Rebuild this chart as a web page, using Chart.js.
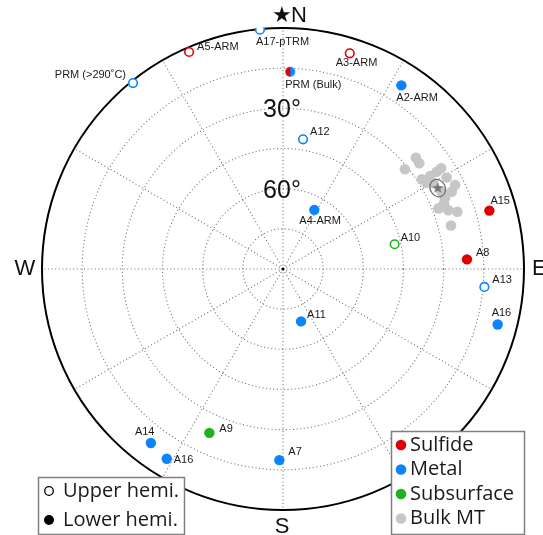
<!DOCTYPE html>
<html>
<head>
<meta charset="utf-8">
<script src="https://cdn.jsdelivr.net/npm/chart.js"></script>
<style>
  body { margin: 0; background: #fff; }
</style>
</head>
<body>
<canvas id="net" width="543" height="535"></canvas>
<script>
// directions: declination (deg), inclination (deg, negative = upper hemisphere)
const sulfideNames = ['A5-ARM', 'A3-ARM', 'A15', 'A8'];
const sulfideDec = [336.6, 17.2, 74.2, 87.0];
const sulfideInc = [-1.7, -5.7, 9.9, 21.2];

const metalNames = ['A17-pTRM', 'PRM (>290˚C)', 'A2-ARM', 'A12', 'A4-ARM', 'A13', 'A16', 'A11', 'A7', 'A14', 'A16'];
const metalDec = [354.5, 321.1, 32.8, 8.8, 27.9, 95.1, 104.5, 161.0, 181.1, 217.2, 211.5];
const metalInc = [-0.2, -0.8, 8.4, -41.0, 65.0, -14.5, 7.2, 69.3, 18.6, 8.4, 6.9];

const subsurfaceNames = ['A10', 'A9'];
const subsurfaceDec = [77.5, 204.2];
const subsurfaceInc = [-47.3, 22.9];

const bulkPrmNames = ['PRM (Bulk)'];
const bulkPrmDec = [2.1];
const bulkPrmInc = [16.3];

const bulkMtDec = [50.1, 52.2, 50.7, 57.5, 57.7, 57.1, 59.0, 60.8, 64.0, 65.4, 64.0, 66.4, 68.7, 70.4, 71.8, 75.5, 60.3, 57.7, 67.7];
const bulkMtInc = [25.3, 25.6, 31.2, 20.0, 22.1, 28.3, 27.4, 20.0, 18.5, 20.7, 24.1, 24.0, 27.7, 24.5, 21.5, 25.2, 25.4, 25.0, 25.0];
const bulkMeanDec = [62.4];
const bulkMeanInc = [24.8];

const ringInc = [75, 60, 45, 30, 15];
const ringLabelInc = [30, 60];
const spokeDec = [0, 30, 60, 90, 120, 150, 180, 210, 240, 270, 300, 330];

const legendGroups = ['Sulfide', 'Metal', 'Subsurface', 'Bulk MT'];
const legendHemi = ['Upper hemi.', 'Lower hemi.'];

// label placement, pixels from the marker: [dx, dy, align]
const sulfideLabelPos = [[8, -5, 'left'], [-14, 10, 'left'], [1, -10, 'left'], [9, -6, 'left']];
const metalLabelPos = [[-4, 12, 'left'], [-7, -8, 'right'], [-5, 13, 'left'], [7, -7, 'left'], [-15, 11, 'left'],
  [8, -7, 'left'], [-6, -12, 'left'], [6, -6, 'left'], [9, -8, 'left'], [-16, -11, 'left'], [7, 1, 'left']];
const subsurfaceLabelPos = [[6, -6, 'left'], [10, -4, 'left']];
const bulkPrmLabelPos = [[-5, 13, 'left']];

const RED = '#e00000', BLUE = '#0a84ff', GREEN = '#1db31d', GREY = '#c6c6c6';

// polar: distance from centre = 90 - |inc|
function toXY(dec, inc) {
  const r = 90 - Math.abs(inc);
  const a = dec * Math.PI / 180;
  return { x: r * Math.sin(a), y: r * Math.cos(a) };
}
const pts = (dec, inc) => dec.map((d, i) => toXY(d, inc[i]));
const fills = (inc, col) => inc.map(v => v < 0 ? '#fff' : col);
const widths = inc => inc.map(v => v < 0 ? 1.6 : 0);
const radii = inc => inc.map(v => v < 0 ? 4.3 : 5.2);

function halfDot(r) {
  const c = document.createElement('canvas');
  c.width = c.height = 2 * r + 2;
  const g = c.getContext('2d');
  g.fillStyle = RED;
  g.beginPath(); g.arc(r + 1, r + 1, r, Math.PI / 2, Math.PI * 1.5); g.fill();
  g.fillStyle = BLUE;
  g.beginPath(); g.arc(r + 1, r + 1, r, -Math.PI / 2, Math.PI / 2); g.fill();
  return c;
}
function starImg(r) {
  const c = document.createElement('canvas');
  c.width = c.height = 2 * r + 2;
  const g = c.getContext('2d');
  g.fillStyle = '#777';
  g.beginPath();
  for (let k = 0; k < 10; k++) {
    const rr = k % 2 ? r * 0.42 : r;
    const a = -Math.PI / 2 + k * Math.PI / 5;
    g.lineTo(r + 1 + rr * Math.cos(a), r + 1 + rr * Math.sin(a));
  }
  g.closePath(); g.fill();
  return c;
}

const gridPlugin = {
  id: 'grid',
  beforeDatasetsDraw(chart) {
    const ctx = chart.ctx, xs = chart.scales.x, ys = chart.scales.y;
    const cx = xs.getPixelForValue(0), cy = ys.getPixelForValue(0);
    const k = (xs.getPixelForValue(90) - cx) / 90;
    ctx.save();
    ctx.strokeStyle = '#707070';
    ctx.lineWidth = 1.1;
    ctx.setLineDash([1, 2.6]);
    ringInc.forEach(inc => {
      ctx.beginPath(); ctx.arc(cx, cy, (90 - inc) * k, 0, Math.PI * 2); ctx.stroke();
    });
    spokeDec.forEach(d => {
      const a = d * Math.PI / 180;
      ctx.beginPath(); ctx.moveTo(cx, cy);
      ctx.lineTo(cx + 90 * k * Math.sin(a), cy - 90 * k * Math.cos(a)); ctx.stroke();
    });
    ctx.setLineDash([]);
    ctx.strokeStyle = '#000';
    ctx.lineWidth = 2;
    ctx.beginPath(); ctx.arc(cx, cy, 90 * k, 0, Math.PI * 2); ctx.stroke();

    ctx.fillStyle = '#111';
    ctx.font = '25px "Liberation Sans Narrow", "Liberation Sans", sans-serif';
    ctx.textAlign = 'center';
    ctx.textBaseline = 'middle';
    ringLabelInc.forEach(inc => {
      ctx.fillText(inc + '°', cx - 1, cy - (90 - inc) * k + 2);
    });

    ctx.font = '22px "Liberation Sans", sans-serif';
    ctx.fillText('★', cx - 1, cy - 90 * k - 12);
    ctx.textAlign = 'left';
    ctx.fillText('N', cx + 8, cy - 90 * k - 12);
    ctx.fillText('E', cx + 90 * k + 8, cy);
    ctx.textAlign = 'center';
    ctx.fillText('W', cx - 90 * k - 17, cy);
    ctx.fillText('S', cx - 1, cy + 90 * k + 17);
    ctx.restore();
  },
  afterDatasetsDraw(chart) {
    const ctx = chart.ctx;
    ctx.save();
    // confidence ellipse round the bulk mean
    const m = chart.getDatasetMeta(4).data[0];
    ctx.strokeStyle = '#6e6e6e';
    ctx.lineWidth = 1.3;
    ctx.beginPath(); ctx.ellipse(m.x, m.y, 7.5, 9, -0.5, 0, Math.PI * 2); ctx.stroke();

    ctx.fillStyle = '#1a1a1a';
    ctx.font = '11px "Liberation Sans", sans-serif';
    ctx.textBaseline = 'middle';
    chart.data.datasets.forEach((ds, di) => {
      if (!ds.names) return;
      const meta = chart.getDatasetMeta(di);
      ds.names.forEach((n, i) => {
        const p = meta.data[i], o = ds.labelPos[i];
        ctx.textAlign = o[2];
        ctx.fillText(n, p.x + o[0], p.y + o[1]);
      });
    });
    ctx.restore();
  },
  afterDraw(chart) {
    const ctx = chart.ctx;
    ctx.save();
    ctx.lineWidth = 1.5;
    ctx.strokeStyle = '#808080';
    ctx.fillStyle = '#fff';
    ctx.fillRect(38, 477, 146, 57); ctx.strokeRect(38.5, 477.5, 146, 57);
    ctx.fillRect(391, 431, 133, 104); ctx.strokeRect(391.5, 431.5, 133, 103);

    ctx.font = '20px "Open Sans", sans-serif';
    ctx.textBaseline = 'middle';
    ctx.textAlign = 'left';
    // hemisphere key
    ctx.strokeStyle = '#000'; ctx.lineWidth = 1.3;
    ctx.beginPath(); ctx.arc(49, 491, 4.3, 0, Math.PI * 2); ctx.stroke();
    ctx.fillStyle = '#000';
    ctx.beginPath(); ctx.arc(49, 520, 5, 0, Math.PI * 2); ctx.fill();
    ctx.fillStyle = '#1a1a1a';
    legendHemi.forEach((t, i) => ctx.fillText(t, 63, 491 + i * 29));
    // group key
    const cols = [RED, BLUE, GREEN, GREY];
    legendGroups.forEach((t, i) => {
      const y = 445 + i * 24.5;
      ctx.fillStyle = cols[i];
      ctx.beginPath(); ctx.arc(401, y, 5.3, 0, Math.PI * 2); ctx.fill();
      ctx.fillStyle = '#1a1a1a';
      ctx.fillText(t, 410, y);
    });
    ctx.restore();
  }
};

new Chart(document.getElementById('net'), {
  type: 'scatter',
  data: {
    datasets: [
      { data: pts(sulfideDec, sulfideInc), names: sulfideNames, labelPos: sulfideLabelPos,
        pointBackgroundColor: fills(sulfideInc, RED), pointBorderColor: RED,
        pointBorderWidth: widths(sulfideInc), pointRadius: radii(sulfideInc), order: 1 },
      { data: pts(metalDec, metalInc), names: metalNames, labelPos: metalLabelPos,
        pointBackgroundColor: fills(metalInc, BLUE), pointBorderColor: BLUE,
        pointBorderWidth: widths(metalInc), pointRadius: radii(metalInc), order: 1 },
      { data: pts(subsurfaceDec, subsurfaceInc), names: subsurfaceNames, labelPos: subsurfaceLabelPos,
        pointBackgroundColor: fills(subsurfaceInc, GREEN), pointBorderColor: GREEN,
        pointBorderWidth: widths(subsurfaceInc), pointRadius: radii(subsurfaceInc), order: 1 },
      { data: pts(bulkPrmDec, bulkPrmInc), names: bulkPrmNames, labelPos: bulkPrmLabelPos,
        pointStyle: halfDot(5), order: 1 },
      { data: pts(bulkMeanDec, bulkMeanInc), pointStyle: starImg(6), order: 2 },
      { data: pts(bulkMtDec, bulkMtInc), pointBackgroundColor: GREY, pointBorderWidth: 0,
        pointRadius: 5.3, order: 5 },
      { data: [{ x: 0, y: 0 }], pointBackgroundColor: '#000', pointBorderWidth: 0, pointRadius: 1.6, order: 1 }
    ]
  },
  options: {
    responsive: false,
    animation: false,
    events: [],
    layout: { padding: { left: 42, right: 19, top: 28, bottom: 25 } },
    scales: {
      x: { type: 'linear', min: -90, max: 90, display: false },
      y: { type: 'linear', min: -90, max: 90, display: false }
    },
    plugins: { legend: { display: false }, tooltip: { enabled: false } }
  },
  plugins: [gridPlugin]
});
</script>
</body>
</html>
